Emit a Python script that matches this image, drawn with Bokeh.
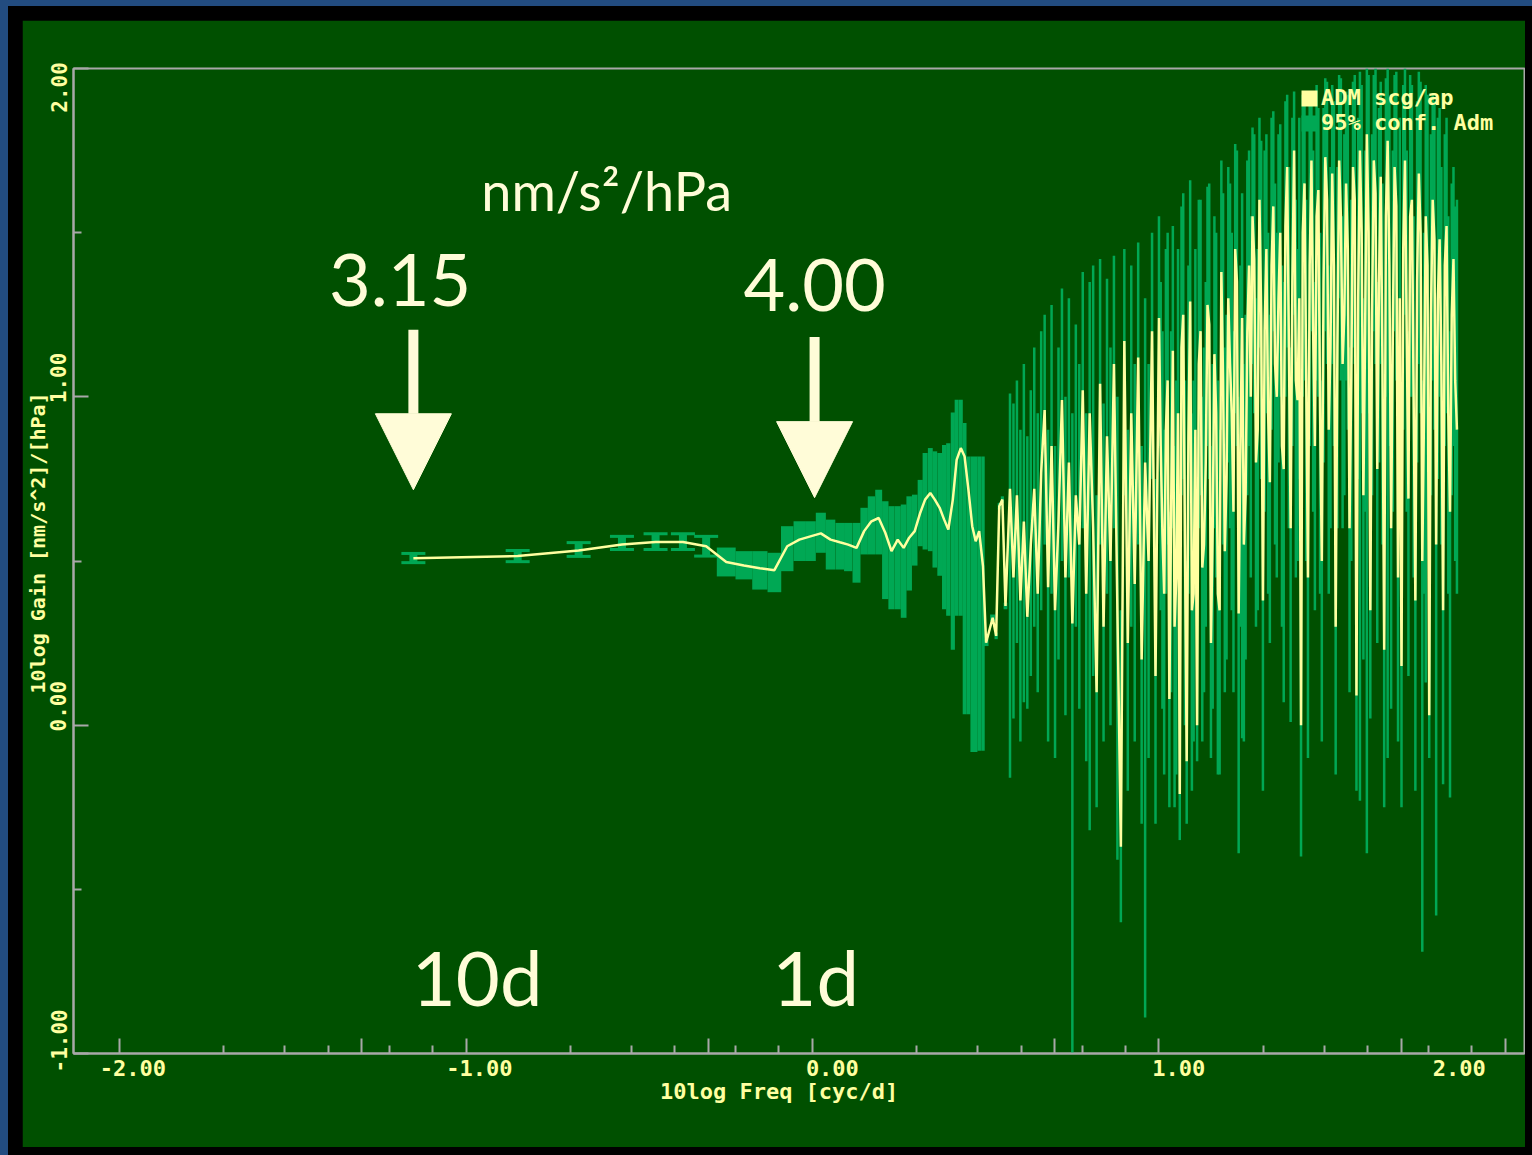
import numpy as np
from bokeh.plotting import figure
from bokeh.models import (ColumnDataSource, Range1d, FixedTicker, CustomJSTickFormatter,
                          Whisker, TeeHead, Label, Arrow, NormalHead, Legend, LegendItem)
from bokeh.layouts import column
from bokeh.embed import file_html
from bokeh.resources import INLINE

# ---------------- data (x = 10log frequency [cyc/d], y = 10log gain) ----------------
logf_low = [-1.152, -0.851, -0.675, -0.550, -0.453, -0.374, -0.307]
gain_low = [0.508, 0.515, 0.532, 0.550, 0.558, 0.558, 0.545]
conf_lo_low = [0.495, 0.498, 0.514, 0.535, 0.535, 0.535, 0.515]
conf_hi_low = [0.523, 0.532, 0.556, 0.575, 0.583, 0.583, 0.575]

logf_mid = [-0.249, -0.198, -0.152, -0.110, -0.073, -0.038, -0.006, 0.024, 0.052, 0.079,
            0.103, 0.127, 0.149, 0.170, 0.191, 0.210, 0.228, 0.246, 0.263, 0.279,
            0.295, 0.311, 0.325, 0.340, 0.353, 0.367, 0.380, 0.392, 0.405, 0.416,
            0.428, 0.439, 0.450, 0.461, 0.471, 0.481, 0.492, 0.501, 0.520, 0.530,
            0.539, 0.548, 0.557]
gain_mid = [0.497, 0.486, 0.478, 0.472, 0.545, 0.565, 0.575, 0.584, 0.565, 0.557,
            0.550, 0.540, 0.591, 0.621, 0.631, 0.586, 0.530, 0.565, 0.540, 0.571,
            0.591, 0.647, 0.687, 0.707, 0.687, 0.662, 0.626, 0.596, 0.687, 0.808,
            0.844, 0.818, 0.717, 0.606, 0.560, 0.591, 0.484, 0.251, 0.327, 0.272,
            0.667, 0.687, 0.363]
conf_hi_mid = [0.541, 0.530, 0.530, 0.525, 0.606, 0.621, 0.621, 0.647, 0.626, 0.616,
               0.616, 0.616, 0.662, 0.697, 0.717, 0.682, 0.667, 0.667, 0.672, 0.697,
               0.702, 0.747, 0.829, 0.844, 0.834, 0.829, 0.853, 0.859, 0.952, 0.991,
               0.991, 0.920, 0.818, 0.818, 0.818, 0.818, 0.818, 0.261, 0.337, 0.282,
               0.677, 0.697, 0.373]
conf_lo_mid = [0.453, 0.444, 0.413, 0.405, 0.469, 0.500, 0.500, 0.525, 0.474, 0.474,
               0.469, 0.434, 0.520, 0.520, 0.520, 0.384, 0.353, 0.353, 0.327, 0.410,
               0.486, 0.545, 0.535, 0.530, 0.480, 0.455, 0.353, 0.333, 0.230, 0.333,
               0.333, 0.033, 0.033, -0.082, -0.082, -0.078, -0.078, 0.241, 0.317, 0.262,
               0.657, 0.677, 0.353]

logf_high = [0.57, 0.58, 0.59, 0.60, 0.61, 0.62, 0.63, 0.64, 0.65, 0.66,
             0.67, 0.68, 0.69, 0.70, 0.71, 0.72, 0.73, 0.74, 0.75, 0.76,
             0.77, 0.78, 0.79, 0.80, 0.81, 0.82, 0.83, 0.84, 0.85, 0.86,
             0.87, 0.88, 0.89, 0.90, 0.91, 0.92, 0.93, 0.94, 0.95, 0.96,
             0.97, 0.98, 0.99, 1.00, 1.01, 1.02, 1.03, 1.04, 1.05, 1.06,
             1.07, 1.08, 1.09, 1.10, 1.11, 1.12, 1.13, 1.14, 1.15, 1.16,
             1.17, 1.18, 1.19, 1.20, 1.21, 1.22, 1.23, 1.24, 1.25, 1.26,
             1.27, 1.28, 1.29, 1.30, 1.31, 1.32, 1.33, 1.34, 1.35, 1.36,
             1.37, 1.38, 1.39, 1.40, 1.41, 1.42, 1.43, 1.44, 1.45, 1.46,
             1.47, 1.48, 1.49, 1.50, 1.51, 1.52, 1.53, 1.54, 1.55, 1.56,
             1.57, 1.58, 1.59, 1.60, 1.61, 1.62, 1.63, 1.64, 1.65, 1.66,
             1.67, 1.68, 1.69, 1.70, 1.71, 1.72, 1.73, 1.74, 1.75, 1.76,
             1.77, 1.78, 1.79, 1.80, 1.81, 1.82, 1.83, 1.84, 1.85, 1.86]
gain_high = [0.72, 0.45, 0.70, 0.38, 0.62, 0.33, 0.55, 0.72, 0.40, 0.77,
             0.96, 0.42, 0.85, 0.35, 0.62, 0.99, 0.45, 0.80, 0.31, 0.70,
             0.55, 1.02, 0.40, 0.95, 0.60, 0.10, 1.04, 0.30, 0.88, 0.50,
             1.10, 0.35, -0.37, 1.17, 0.25, 0.95, 0.43, 1.12, 0.20, 0.80,
             0.50, 1.20, 0.15, 1.24, 0.58, 0.90, 0.08, 1.14, 0.45, -0.21,
             1.25, -0.11, 1.29, 0.40, 0.00, 1.20, 0.55, 1.28, 0.25, 1.13,
             0.40, 1.38, 0.53, 1.30, 0.95, 1.45, 0.34, 1.24, 0.70, 1.40,
             1.55, 0.80, 1.60, 0.38, 1.45, 0.74, 1.58, 1.00, 1.50, 0.78,
             1.70, 0.60, 1.75, 0.99, 0.00, 1.65, 0.45, 1.72, 0.85, 1.63,
             0.50, 1.73, 0.90, 1.68, 0.30, 1.72, 1.10, 1.65, 0.60, 1.70,
             0.09, 1.75, 0.70, 1.80, 0.35, 1.72, 0.78, 1.67, 0.23, 1.78,
             0.60, 1.70, 0.45, 0.18, 1.72, 0.69, 1.60, 0.38, 1.68, 0.50,
             1.55, 0.03, 1.60, 0.55, 1.48, 0.35, 1.52, 0.65, 1.42, 0.90]
conf_hi_high = [1.01, 0.98, 1.05, 0.90, 1.10, 0.88, 1.02, 1.15, 0.95, 1.20,
                1.25, 0.90, 1.28, 0.85, 1.15, 1.33, 1.00, 1.30, 0.95, 1.22,
                1.10, 1.38, 0.95, 1.35, 1.40, 0.70, 1.42, 0.98, 1.36, 1.15,
                1.43, 1.00, 0.35, 1.45, 0.90, 1.40, 1.10, 1.47, 0.85, 1.30,
                1.10, 1.50, 0.75, 1.55, 1.20, 1.45, 0.65, 1.52, 1.05, 0.40,
                1.62, 0.50, 1.66, 1.05, 0.60, 1.60, 1.15, 1.64, 0.85, 1.55,
                1.05, 1.72, 1.15, 1.70, 1.50, 1.77, 1.00, 1.62, 1.25, 1.75,
                1.82, 1.30, 1.85, 0.95, 1.80, 1.25, 1.87, 1.50, 1.83, 1.35,
                1.92, 1.15, 1.93, 1.45, 0.55, 1.90, 1.00, 1.93, 1.35, 1.88,
                1.05, 1.97, 1.40, 1.95, 0.85, 1.98, 1.55, 1.93, 1.15, 1.96,
                0.60, 1.99, 1.30, 2.00, 0.95, 1.98, 1.35, 1.96, 0.80, 2.00,
                1.10, 1.98, 1.00, 0.75, 2.00, 1.20, 1.95, 0.90, 1.99, 1.05,
                1.95, 0.60, 1.92, 1.10, 1.88, 0.95, 1.85, 1.20, 1.70, 1.60]
conf_lo_high = [-0.16, 0.02, 0.25, -0.05, 0.07, 0.05, 0.15, 0.30, 0.10, 0.35,
                0.55, -0.05, 0.40, -0.10, 0.20, 0.50, 0.03, 0.45, -1.00, 0.30,
                0.05, 0.60, -0.11, -0.32, 0.15, -0.25, 0.55, -0.05, 0.40, 0.00,
                0.60, -0.41, -0.60, 0.70, -0.20, 0.30, -0.05, 0.55, -0.30, -0.89,
                -0.10, 0.75, -0.30, 0.85, 0.05, 0.40, -0.25, 0.60, -0.15, -0.35,
                0.75, -0.30, 0.80, -0.05, -0.11, 0.70, 0.10, 0.85, -0.10, 0.60,
                -0.15, 0.90, 0.10, 0.80, 0.35, 0.95, -0.39, -0.04, 0.20, 0.85,
                1.10, 0.30, 1.15, -0.20, 0.95, 0.25, 1.20, 0.45, 1.00, 0.07,
                1.15, 0.01, 1.25, 0.50, -0.40, 1.05, -0.10, 1.20, 0.35, 1.00,
                -0.05, 1.20, 0.40, 1.10, -0.15, 1.30, 0.60, 1.05, 0.10, 1.15,
                -0.20, -0.23, 0.20, -0.39, 0.02, 1.20, 0.25, 1.10, -0.25, -0.10,
                0.05, 1.20, -0.05, -0.25, 1.25, 0.15, 1.00, -0.20, 1.10, -0.69,
                0.13, -0.10, 1.05, -0.58, 1.00, -0.18, 0.95, -0.22, 0.85, 0.40]

# intermediate frequencies of the densest part of the spectrum
logf_top = [1.005, 1.015, 1.025, 1.035, 1.045, 1.055, 1.065, 1.075, 1.085, 1.095,
            1.105, 1.115, 1.125, 1.135, 1.145, 1.155, 1.165, 1.175, 1.185, 1.195,
            1.205, 1.215, 1.225, 1.235, 1.245, 1.255, 1.265, 1.275, 1.285, 1.295,
            1.305, 1.315, 1.325, 1.335, 1.345, 1.355, 1.365, 1.375, 1.385, 1.395,
            1.405, 1.415, 1.425, 1.435, 1.445, 1.455, 1.465, 1.475, 1.485, 1.495,
            1.505, 1.515, 1.525, 1.535, 1.545, 1.555, 1.565, 1.575, 1.585, 1.595,
            1.605, 1.615, 1.625, 1.635, 1.645, 1.655, 1.665, 1.675, 1.685, 1.695,
            1.705, 1.715, 1.725, 1.735, 1.745, 1.755, 1.765, 1.775, 1.785, 1.795,
            1.805, 1.815, 1.825, 1.835, 1.845, 1.855]
gain_top = [0.85, 0.40, 1.05, 0.65, 0.30, 0.95, 1.15, 0.55, 0.88, 0.35,
            0.90, 1.10, 0.48, 0.80, 1.22, 0.60, 0.95, 0.35, 1.05, 0.75,
            1.10, 0.65, 1.35, 0.85, 0.55, 1.20, 1.00, 1.42, 0.90, 1.25,
            1.20, 0.95, 1.40, 1.10, 1.30, 0.85, 1.52, 1.15, 1.35, 1.05,
            1.30, 1.50, 1.05, 1.40, 1.20, 1.55, 0.95, 1.35, 1.60, 1.15,
            1.40, 1.15, 1.55, 1.25, 1.45, 1.05, 1.60, 1.30, 1.50, 1.20,
            1.50, 1.25, 1.62, 1.35, 1.10, 1.55, 1.40, 1.20, 1.58, 1.30,
            1.45, 1.20, 1.55, 1.00, 1.35, 1.50, 0.95, 1.40, 1.25, 1.48,
            1.30, 1.10, 1.40, 0.95, 1.25, 1.05]
conf_hi_top = [1.35, 0.90, 1.50, 1.20, 0.85, 1.45, 1.58, 1.05, 1.40, 0.95,
               1.45, 1.60, 1.00, 1.35, 1.65, 1.10, 1.50, 0.90, 1.62, 1.25,
               1.65, 1.20, 1.75, 1.40, 1.10, 1.72, 1.55, 1.80, 1.45, 1.78,
               1.75, 1.50, 1.85, 1.65, 1.80, 1.40, 1.90, 1.70, 1.85, 1.60,
               1.85, 1.92, 1.60, 1.90, 1.75, 1.95, 1.50, 1.88, 1.96, 1.70,
               1.90, 1.70, 1.97, 1.80, 1.92, 1.60, 1.98, 1.85, 1.95, 1.75,
               1.98, 1.80, 2.00, 1.88, 1.65, 1.97, 1.90, 1.75, 1.99, 1.85,
               1.95, 1.75, 1.98, 1.55, 1.90, 1.96, 1.50, 1.92, 1.80, 1.90,
               1.85, 1.70, 1.80, 1.55, 1.65, 1.58]
conf_lo_top = [0.35, -0.15, 0.55, 0.10, -0.25, 0.45, 0.70, 0.00, 0.40, -0.20,
               0.40, 0.60, -0.05, 0.30, 0.75, 0.05, 0.45, -0.15, 0.55, 0.20,
               0.60, 0.10, 0.85, 0.30, -0.05, 0.70, 0.45, 0.95, 0.35, 0.75,
               0.65, 0.40, 0.90, 0.55, 0.80, 0.30, 1.00, 0.60, 0.85, 0.45,
               0.75, 1.00, 0.50, 0.85, 0.65, 1.05, 0.40, 0.80, 1.10, 0.60,
               0.85, 0.60, 1.05, 0.70, 0.90, 0.50, 1.10, 0.75, 0.95, 0.65,
               0.95, 0.70, 1.10, 0.80, 0.55, 1.00, 0.85, 0.65, 1.05, 0.75,
               0.90, 0.65, 1.00, 0.45, 0.80, 0.95, 0.40, 0.85, 0.70, 0.90,
               0.75, 0.55, 0.85, 0.40, 0.70, 0.50]

xtick_values = [-2, -1, 0, 1, 2]
xtick_labels = ["-2.00", "-1.00", "0.00", "1.00", "2.00"]
ytick_values = [-1, 0, 1, 2]
ytick_labels = ["-1.00", "0.00", "1.00", "2.00"]
series_names = ["ADM scg/ap", "95% conf. Adm"]

# ---------------- styling ----------------
BG = "#005000"
GREEN = "#00a854"
YELLOW = "#ffffa0"
CREAM = "#fffcd8"
GRAY = "#a8a8a8"
BLUE = "#224c80"
MONO = "DejaVu Sans Mono"
NB = "\u00a0"

x_seq = np.array(logf_low + logf_mid + logf_high)
bar_w = np.gradient(x_seq)          # local spacing between neighbouring frequencies
n_low, n_mid = len(logf_low), len(logf_mid)

x_all = np.array(logf_low + logf_mid + logf_high + logf_top)
g_all = np.array(gain_low + gain_mid + gain_high + gain_top)
order = np.argsort(x_all, kind="stable")

p = figure(width=1503, height=1127,
           x_range=Range1d(-2.133, 2.055), y_range=Range1d(-1, 2),
           output_backend="svg", toolbar_location=None,
           background_fill_color=BG, border_fill_color=BG,
           min_border_left=50, min_border_right=1, min_border_top=48, min_border_bottom=94)
p.grid.visible = False
p.outline_line_color = GRAY
p.outline_line_width = 2

# confidence bars: wide blocks in the middle band
src_mid = ColumnDataSource(dict(x=logf_mid, lo=conf_lo_mid, hi=conf_hi_mid,
                                w=bar_w[n_low:n_low + n_mid]))
conf_r = p.vbar(x="x", width="w", top="hi", bottom="lo", source=src_mid,
                fill_color=GREEN, line_color=None)

# confidence bars: thin bars at high frequencies
src_high = ColumnDataSource(dict(x=logf_high + logf_top,
                                 lo=conf_lo_high + conf_lo_top,
                                 hi=conf_hi_high + conf_hi_top))
p.segment(x0="x", y0="lo", x1="x", y1="hi", source=src_high,
          line_color=GREEN, line_width=2.5, line_cap="butt")

# confidence bars with caps at low frequencies
src_low = ColumnDataSource(dict(x=logf_low, lo=conf_lo_low, hi=conf_hi_low))
wh = Whisker(base="x", upper="hi", lower="lo", source=src_low, dimension="height",
             line_color=GREEN, line_width=8, level="underlay",
             upper_head=TeeHead(size=24, line_color=GREEN, line_width=3),
             lower_head=TeeHead(size=24, line_color=GREEN, line_width=3))
p.add_layout(wh)

# admittance line
src_line = ColumnDataSource(dict(x=x_all[order], g=g_all[order]))
line_r = p.line("x", "g", source=src_line, line_color=YELLOW, line_width=2.5)

# legend swatch for the admittance series (a single empty NaN row: nothing is plotted)
swatch_src = ColumnDataSource(dict(x=np.array([np.nan]), top=np.array([np.nan]),
                                   bottom=np.array([np.nan])))
swatch = p.vbar(x="x", top="top", bottom="bottom", width=1, source=swatch_src,
                fill_color=YELLOW, line_color=None)
legend = Legend(items=[LegendItem(label=series_names[0], renderers=[swatch]),
                       LegendItem(label=series_names[1], renderers=[conf_r])],
                location=(1226, 918), orientation="vertical",
                label_text_font=MONO, label_text_font_style="bold",
                label_text_font_size="22px", label_text_color=YELLOW,
                glyph_width=20, glyph_height=20, label_standoff=2,
                label_height=22, spacing=-3, padding=0, margin=0,
                background_fill_alpha=0, border_line_alpha=0)
p.add_layout(legend)

# ---------------- axes ----------------
xmaj = [float(d + np.log10(k)) for d in range(-2, 3) for k in (1, 5) if d + np.log10(k) <= 2.05]
xmin = [float(d + np.log10(k)) for d in range(-2, 2) for k in (2, 3, 4, 6, 8)]
x_disp = [NB * 2 + xtick_labels[0], NB * 2 + xtick_labels[1], NB * 3 + xtick_labels[2],
          NB * 3 + xtick_labels[3], xtick_labels[4] + NB * 3]
y_disp = [NB * 2 + ytick_labels[0], NB * 3 + ytick_labels[1], NB * 3 + ytick_labels[2],
          ytick_labels[3] + NB * 3]
fmt_code = """
const i = vals.findIndex(v => Math.abs(v - tick) < 1e-6);
return i >= 0 ? labels[i] : "";
"""
p.xaxis.ticker = FixedTicker(ticks=xmaj, minor_ticks=xmin)
p.xaxis.formatter = CustomJSTickFormatter(args=dict(vals=xtick_values, labels=x_disp), code=fmt_code)
p.yaxis.ticker = FixedTicker(ticks=ytick_values, minor_ticks=[-0.5, 0.5, 1.5])
p.yaxis.formatter = CustomJSTickFormatter(args=dict(vals=ytick_values, labels=y_disp), code=fmt_code)
p.yaxis.major_label_orientation = "vertical"

p.xaxis.axis_label = "10log Freq [cyc/d]" + NB * 3
p.yaxis.axis_label = NB * 3 + "10log Gain [nm/s^2]/[hPa]"
for ax in (p.xaxis, p.yaxis):
    ax.axis_line_color = GRAY
    ax.axis_line_width = 2
    ax.major_tick_line_color = GRAY
    ax.major_tick_line_width = 2
    ax.minor_tick_line_color = GRAY
    ax.minor_tick_line_width = 2
    ax.major_tick_in = 15
    ax.major_tick_out = 0
    ax.minor_tick_in = 8
    ax.minor_tick_out = 0
    ax.major_label_text_font = MONO
    ax.major_label_text_font_style = "bold"
    ax.major_label_text_font_size = "22px"
    ax.major_label_text_color = YELLOW
    ax.axis_label_text_font = MONO
    ax.axis_label_text_font_style = "bold"
    ax.axis_label_text_font_size = "22px"
    ax.axis_label_text_color = YELLOW
p.yaxis.major_label_text_font_size = "21px"
p.yaxis.axis_label_text_font_size = "20px"
p.xaxis.major_label_standoff = 2
p.xaxis.axis_label_standoff = -5
p.yaxis.major_label_standoff = 2
p.yaxis.axis_label_standoff = -5

# ---------------- annotations ----------------
def add_text(txt, x, y, size):
    p.add_layout(Label(x=x, y=y, text=txt, text_align="center", text_baseline="middle",
                       text_font="Lato", text_font_size=size, text_color=CREAM))

add_text("nm/s\u00b2/hPa", -0.594, 1.629, "54px")
add_text("3.15", -1.190, 1.356, "72px")
add_text("4.00", 0.006, 1.340, "72px")
add_text("10d", -0.968, -0.766, "76px")
add_text("1d", 0.009, -0.766, "76px")

for xa, ys, ye in ((logf_low[0], 1.204, 0.717), (0.006, 1.182, 0.693)):
    p.add_layout(Arrow(end=NormalHead(size=76, fill_color=CREAM, line_color=CREAM, line_width=1),
                       x_start=xa, y_start=ys, x_end=xa, y_end=ye,
                       line_color=CREAM, line_width=10))

inner = column(p, styles={"background-color": "#000000", "padding": "14px 7px 8px 14px"})
outer = column(inner, styles={"background-color": BLUE, "padding": "6px 0px 0px 8px"})

open("out.html", "w").write(file_html(outer, INLINE))
